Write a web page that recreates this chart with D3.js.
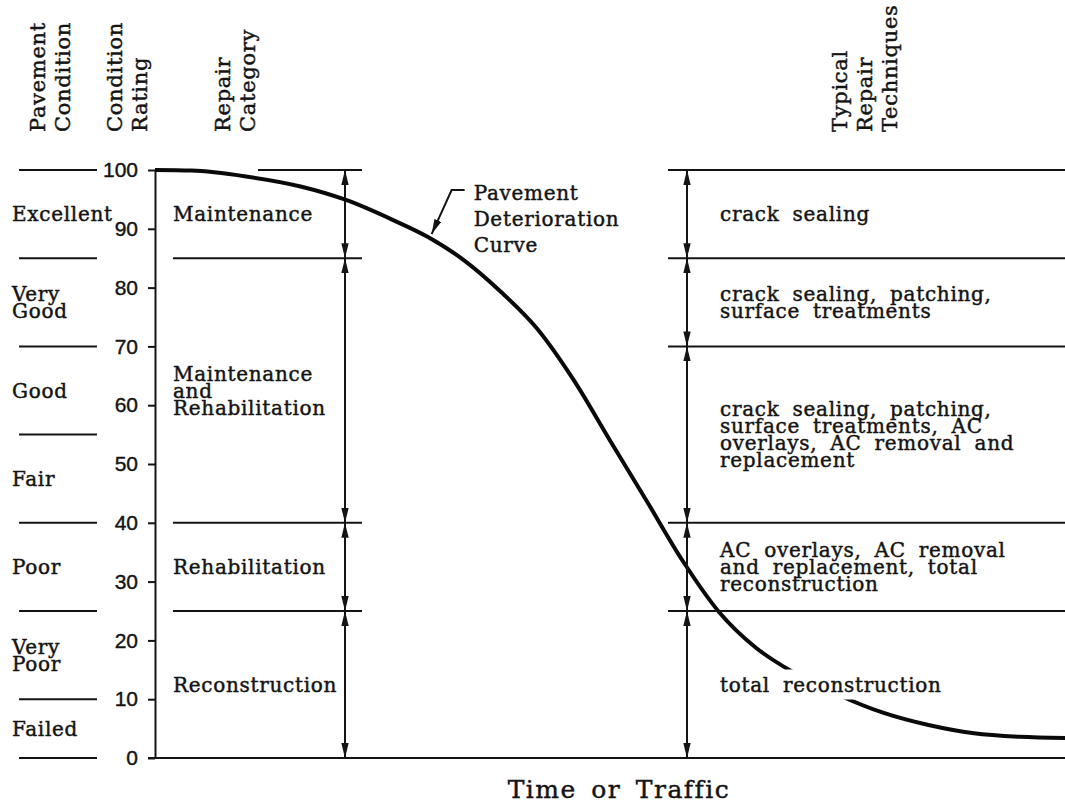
<!DOCTYPE html>
<html>
<head>
<meta charset="utf-8">
<script src="https://cdn.jsdelivr.net/npm/d3@7/dist/d3.min.js"></script>
<style>
  body { margin: 0; background: #fff; }
</style>
</head>
<body>
<div id="chart"></div>
<script>
// data
var ratingTicks = [0, 10, 20, 30, 40, 50, 60, 70, 80, 90, 100];

var conditionBreaks = [100, 85, 70, 55, 40, 25, 10, 0];
var conditionLabels = [["Excellent"], ["Very", "Good"], ["Good"], ["Fair"], ["Poor"], ["Very", "Poor"], ["Failed"]];

var repairBreaks = [100, 85, 40, 25, 0];
var repairLabels = [["Maintenance"], ["Maintenance", "and", "Rehabilitation"], ["Rehabilitation"], ["Reconstruction"]];

var techniqueBreaks = [100, 85, 70, 40, 25, 0];
var techniqueLabels = [
  ["crack sealing"],
  ["crack sealing, patching,", "surface treatments"],
  ["crack sealing, patching,", "surface treatments, AC", "overlays, AC removal and", "replacement"],
  ["AC overlays, AC removal", "and replacement, total", "reconstruction"],
  ["total reconstruction"]
];

// pavement deterioration curve (time as % of span, rating 0-100)
var curveTime   = [0, 4, 10, 16, 21, 26, 30, 34, 38, 42, 46, 50, 54, 58, 62, 66, 70, 75, 80, 85, 90, 95, 100];
var curveRating = [100, 99.9, 98.9, 97.2, 94.9, 91.6, 88.6, 84.6, 79.3, 73.0, 64.3, 54.0, 43.8, 33.5, 24.8, 18.8, 14.7, 10.8, 7.7, 5.6, 4.2, 3.6, 3.4];

var headers = [
  {lines: ["Pavement", "Condition"], x: 45},
  {lines: ["Condition", "Rating"], x: 122},
  {lines: ["Repair", "Category"], x: 230},
  {lines: ["Typical", "Repair", "Techniques"], x: 847}
];

// look
var W = 1065, H = 804;
var ink = "#141414";
var serif = "'DejaVu Serif', 'Liberation Serif', serif";
var sans = "'Liberation Sans', Arial, sans-serif";
var lineGap = 17;

var svg = d3.select("#chart").append("svg")
  .attr("width", W).attr("height", H)
  .style("background", "#fff");

var x = d3.scaleLinear().domain([0, 100]).range([155, 1065]);
var y = d3.scaleLinear().domain([0, 100]).range([758, 170]);

var defs = svg.append("defs");
defs.append("marker")
  .attr("id", "arrow")
  .attr("markerUnits", "userSpaceOnUse")
  .attr("viewBox", "0 0 15 8")
  .attr("markerWidth", 15).attr("markerHeight", 8)
  .attr("refX", 15).attr("refY", 4)
  .attr("orient", "auto-start-reverse")
  .append("path")
  .attr("d", "M0,0.3 L15,4 L0,7.7 Z")
  .attr("fill", ink);

function serifText(sel, size) {
  return sel.attr("font-family", serif)
    .attr("font-size", size)
    .attr("fill", ink)
    .attr("stroke", ink)
    .attr("stroke-width", 0.45)
    .attr("letter-spacing", 0.7)
    .attr("word-spacing", 6);
}

// helper for stacked labels centred on a band
function block(g, lines, xPos, mid) {
  var c = y(mid) + 7;
  var first = c - (lines.length - 1) * lineGap / 2;
  var t = serifText(g.append("text"), 20)
    .attr("x", xPos)
    .attr("y", first);
  lines.forEach(function (l, i) {
    t.append("tspan").attr("x", xPos).attr("y", first + i * lineGap).text(l);
  });
  return t;
}

// column headers (rotated)
headers.forEach(function (h) {
  h.lines.forEach(function (l, i) {
    var hx = h.x + i * 25;
    serifText(svg.append("text"), 21)
      .attr("transform", "translate(" + hx + "," + 132 + ") rotate(-90)")
      .text(l);
  });
});

// pavement condition column
var cond = svg.append("g");
cond.selectAll("line").data(conditionBreaks).enter().append("line")
  .attr("x1", 19).attr("x2", 97)
  .attr("y1", function (d) { return y(d); })
  .attr("y2", function (d) { return y(d); })
  .attr("stroke", ink).attr("stroke-width", 2);
conditionLabels.forEach(function (l, i) {
  block(cond, l, 12, (conditionBreaks[i] + conditionBreaks[i + 1]) / 2);
});

// rating axis
var axis = svg.append("g")
  .attr("transform", "translate(" + x(0) + ",0)")
  .call(d3.axisLeft(y).tickValues(ratingTicks).tickSize(7).tickSizeOuter(0).tickPadding(10));
axis.select(".domain").attr("stroke", ink).attr("stroke-width", 2);
axis.selectAll(".tick line").attr("stroke", ink).attr("stroke-width", 2);
axis.selectAll(".tick text")
  .attr("font-family", sans)
  .attr("font-size", 21)
  .attr("fill", ink)
  .attr("stroke", ink)
  .attr("stroke-width", 0.4);

// time axis baseline
svg.append("line")
  .attr("x1", x(0) - 7).attr("x2", W)
  .attr("y1", y(0)).attr("y2", y(0))
  .attr("stroke", ink).attr("stroke-width", 2);

// repair category column
var rep = svg.append("g");
var repArrowX = 345;
rep.selectAll("line.sep").data(repairBreaks.slice(0, -1)).enter().append("line")
  .attr("class", "sep")
  .attr("x1", function (d) { return d === 100 ? 258 : 173; })
  .attr("x2", 362)
  .attr("y1", function (d) { return y(d); })
  .attr("y2", function (d) { return y(d); })
  .attr("stroke", ink).attr("stroke-width", 2);
repairBreaks.slice(0, -1).forEach(function (d, i) {
  rep.append("line")
    .attr("x1", repArrowX).attr("x2", repArrowX)
    .attr("y1", y(d)).attr("y2", y(repairBreaks[i + 1]))
    .attr("stroke", ink).attr("stroke-width", 2)
    .attr("marker-start", "url(#arrow)")
    .attr("marker-end", "url(#arrow)");
});
repairLabels.forEach(function (l, i) {
  block(rep, l, 173, (repairBreaks[i] + repairBreaks[i + 1]) / 2);
});

// deterioration curve
var pts = curveTime.map(function (t, i) { return [t, curveRating[i]]; });
var line = d3.line()
  .x(function (d) { return x(d[0]); })
  .y(function (d) { return y(d[1]); })
  .curve(d3.curveMonotoneX);
svg.append("path")
  .datum(pts)
  .attr("d", line)
  .attr("fill", "none")
  .attr("stroke", "#0a0a0a")
  .attr("stroke-width", 4);

// curve annotation
var tip = [x(30.4), y(89.1)];
svg.append("path")
  .attr("d", "M" + (tip[0] + 33) + "," + (tip[1] - 44) + " L" + (tip[0] + 20) + "," + (tip[1] - 44) + " L" + tip[0] + "," + tip[1])
  .attr("fill", "none")
  .attr("stroke", ink).attr("stroke-width", 2)
  .attr("marker-end", "url(#arrow)");
var ann = serifText(svg.append("text"), 20);
["Pavement", "Deterioration", "Curve"].forEach(function (l, i) {
  ann.append("tspan").attr("x", tip[0] + 42).attr("y", tip[1] - 34 + i * 26).text(l);
});

// typical repair techniques column
var tech = svg.append("g");
var techArrowX = 687;
tech.selectAll("line.sep").data(techniqueBreaks.slice(0, -1)).enter().append("line")
  .attr("class", "sep")
  .attr("x1", 668).attr("x2", W)
  .attr("y1", function (d) { return y(d); })
  .attr("y2", function (d) { return y(d); })
  .attr("stroke", ink).attr("stroke-width", 2);
techniqueBreaks.slice(0, -1).forEach(function (d, i) {
  tech.append("line")
    .attr("x1", techArrowX).attr("x2", techArrowX)
    .attr("y1", y(d)).attr("y2", y(techniqueBreaks[i + 1]))
    .attr("stroke", ink).attr("stroke-width", 2)
    .attr("marker-start", "url(#arrow)")
    .attr("marker-end", "url(#arrow)");
});
techniqueLabels.forEach(function (l, i) {
  var t = block(tech, l, 720, (techniqueBreaks[i] + techniqueBreaks[i + 1]) / 2);
  if (i === techniqueLabels.length - 1) {
    // white backing so the curve breaks around the label
    var bb = t.node().getBBox();
    tech.insert("rect", function () { return t.node(); })
      .attr("x", bb.x - 4).attr("y", bb.y - 3)
      .attr("width", bb.width + 8).attr("height", bb.height + 6)
      .attr("fill", "#fff");
  }
});

// x axis title
serifText(svg.append("text"), 25)
  .attr("x", 619).attr("y", 798)
  .attr("text-anchor", "middle")
  .attr("letter-spacing", 1.5)
  .attr("word-spacing", 5)
  .text("Time or Traffic");
</script>
</body>
</html>
